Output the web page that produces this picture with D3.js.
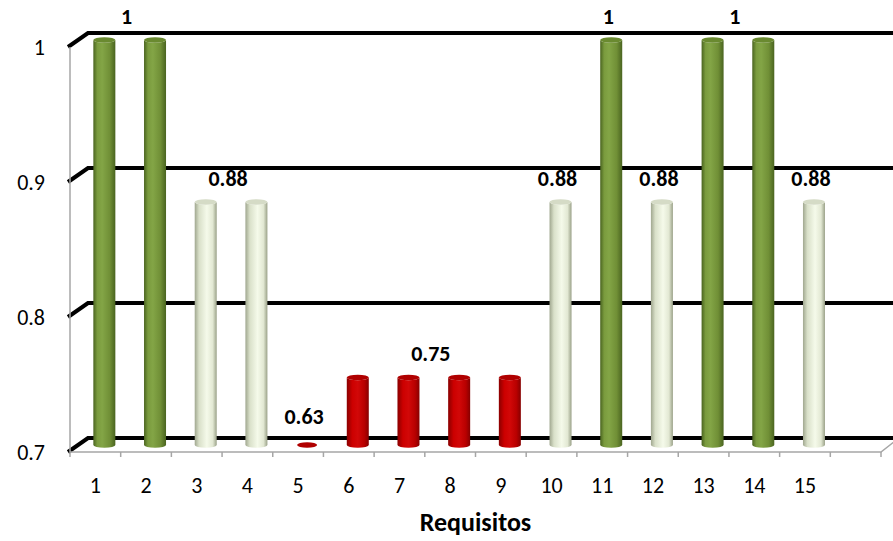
<!DOCTYPE html>
<html>
<head>
<meta charset="utf-8">
<script src="https://cdn.jsdelivr.net/npm/d3@7"></script>
<style>
  body { margin: 0; background: #fff; }
  svg { display: block; font-family: Calibri, Carlito, Lato, "Open Sans", sans-serif; }
</style>
</head>
<body>
<div id="chart"></div>
<script>
// data
var categories = ["1","2","3","4","5","6","7","8","9","10","11","12","13","14","15"];
var values = [1, 1, 0.88, 0.88, 0.63, 0.75, 0.75, 0.75, 0.75, 0.88, 1, 0.88, 1, 1, 0.88];
var barClass = ["ok","ok","mid","mid","low","low","low","low","low","mid","ok","mid","ok","ok","mid"];
var yTicks = [0.7, 0.8, 0.9, 1];
// visible data labels (position on the category axis, 1-based) and their values
var labelPos = [1.5, 3.5, 5, 7.5, 10, 11, 12, 13.5, 15];
var labelVal = [1, 0.88, 0.63, 0.75, 0.88, 1, 0.88, 1, 0.88];

var W = 893, H = 541;
var depthX = 18, depthY = -14;
var slots = categories.length + 1;

var svg = d3.select("#chart").append("svg")
    .attr("width", W).attr("height", H);

var x = d3.scaleLinear().domain([0, slots]).range([70, 881]);
var y = d3.scaleLinear().domain([0.7, 1]).range([452, 47]);

var defs = svg.append("defs");
var grads = {
  ok:  [["0%","#4a6420"],["18%","#7a9b3e"],["40%","#83a546"],["75%","#708f36"],["100%","#4a6420"]],
  mid: [["0%","#a0a78f"],["20%","#d9e0c9"],["55%","#f5faea"],["82%","#e2e8d3"],["100%","#9aa188"]],
  low: [["0%","#8a0000"],["25%","#cc0000"],["50%","#d20808"],["80%","#b80000"],["100%","#860000"]]
};
var tops = { ok: "#6a8a30", mid: "#d5dbc6", low: "#b00000" };
Object.keys(grads).forEach(function(k){
  var g = defs.append("linearGradient").attr("id", "cyl-" + k)
      .attr("x1", "0%").attr("x2", "100%").attr("y1", "0%").attr("y2", "0%");
  grads[k].forEach(function(s){
    g.append("stop").attr("offset", s[0]).attr("stop-color", s[1]);
  });
});

// back gridlines (thick black, with the little diagonal at the wall)
svg.append("g").selectAll("path")
  .data(yTicks)
  .enter().append("path")
    .attr("d", function(d){
      var yf = y(d);
      return "M" + (x(0) - 2) + "," + yf + " L" + (x(0) + depthX) + "," + (yf + depthY) + " L" + (W + 5) + "," + (yf + depthY);
    })
    .attr("fill", "none")
    .attr("stroke", "#000")
    .attr("stroke-width", 4);

// left wall and floor edges
svg.append("line")
    .attr("x1", x(0)).attr("x2", x(0))
    .attr("y1", y(1)).attr("y2", y(0.7))
    .attr("stroke", "#a6a6a6").attr("stroke-width", 1.5);
svg.append("path")
    .attr("d", "M" + x(0) + "," + y(0.7) + " L" + x(slots) + "," + y(0.7) + " L" + (x(slots) + depthX) + "," + (y(0.7) + depthY))
    .attr("fill", "none").attr("stroke", "#a6a6a6").attr("stroke-width", 1.5);
svg.append("g").selectAll("line")
  .data(d3.range(slots + 1))
  .enter().append("line")
    .attr("x1", function(d){ return x(d); }).attr("x2", function(d){ return x(d); })
    .attr("y1", y(0.7)).attr("y2", y(0.7) + 5)
    .attr("stroke", "#a6a6a6").attr("stroke-width", 1.5);

// y tick labels
svg.append("g").selectAll("text")
  .data(yTicks)
  .enter().append("text")
    .attr("x", 45)
    .attr("y", function(d){ return y(d); })
    .attr("text-anchor", "end")
    .attr("dominant-baseline", "central")
    .style("font-size", "22px")
    .text(function(d){ return d3.format("")(d); });

// x tick labels
svg.append("g").selectAll("text")
  .data(categories)
  .enter().append("text")
    .attr("x", function(d, i){ return x(i + 0.5); })
    .attr("y", 485)
    .attr("text-anchor", "middle")
    .attr("dominant-baseline", "central")
    .style("font-size", "22px")
    .text(function(d){ return d; });

svg.append("text")
    .attr("x", (x(0) + x(slots)) / 2).attr("y", 522)
    .attr("text-anchor", "middle")
    .attr("dominant-baseline", "central")
    .style("font-size", "26px").style("font-weight", "bold")
    .text("Requisitos");

// cylinders, standing half way into the depth
var bw = 22, ry = 2.8;
var bars = svg.append("g").selectAll("g")
  .data(values.map(function(v, i){ return { v: v, i: i, c: barClass[i] }; }))
  .enter().append("g")
    .attr("transform", function(d){
      return "translate(" + (x(d.i + 0.5) + depthX / 2) + "," + (depthY / 2) + ")";
    });

bars.append("path")
    .attr("d", function(d){
      var yb = y(0.7), yt = y(Math.max(d.v, 0.7)), r = bw / 2;
      if (yb - yt < 1) return null;
      return "M" + (-r) + "," + yt + " L" + (-r) + "," + yb +
        " A" + r + "," + ry + " 0 0 0 " + r + "," + yb +
        " L" + r + "," + yt +
        " A" + r + "," + ry + " 0 0 1 " + (-r) + "," + yt + "Z";
    })
    .attr("fill", function(d){ return "url(#cyl-" + d.c + ")"; });

bars.append("ellipse")
    .attr("cx", 0)
    .attr("cy", function(d){ return y(Math.max(d.v, 0.7)); })
    .attr("rx", function(d){ return d.v < 0.7 ? 10 : bw / 2; })
    .attr("ry", ry)
    .attr("fill", function(d){ return tops[d.c]; });

// data labels
svg.append("g").selectAll("text")
  .data(labelPos.map(function(p, i){ return { p: p, v: labelVal[i] }; }))
  .enter().append("text")
    .attr("x", function(d){ return x(d.p - 0.5) + depthX / 2 - 3; })
    .attr("y", function(d){ return y(Math.max(d.v, 0.7)) + depthY / 2 - (d.v < 0.7 ? 29 : 24); })
    .attr("text-anchor", "middle")
    .attr("dominant-baseline", "central")
    .style("font-size", "22px").style("font-weight", "bold")
    .text(function(d){ return d3.format("")(d.v); });
</script>
</body>
</html>
